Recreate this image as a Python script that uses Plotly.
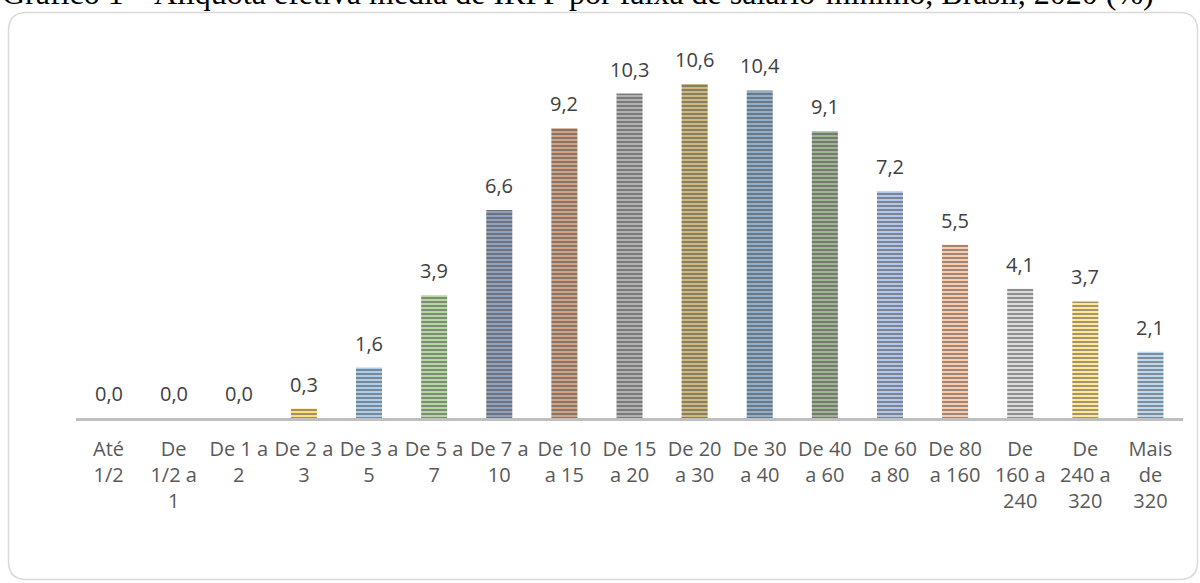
import plotly.graph_objects as go

categories = ["Até<br>1/2", "De<br>1/2 a<br>1", "De 1 a<br>2", "De 2 a<br>3", "De 3 a<br>5",
              "De 5 a<br>7", "De 7 a<br>10", "De 10<br>a 15", "De 15<br>a 20", "De 20<br>a 30",
              "De 30<br>a 40", "De 40<br>a 60", "De 60<br>a 80", "De 80<br>a 160",
              "De<br>160 a<br>240", "De<br>240 a<br>320", "Mais<br>de<br>320"]
values = [0.0, 0.0, 0.0, 0.3, 1.6, 3.9, 6.6, 9.2, 10.3, 10.6, 10.4, 9.1, 7.2, 5.5, 4.1, 3.7, 2.1]
colors = ["#4472C4", "#ED7D31", "#A5A5A5", "#FFC000", "#5B9BD5", "#70AD47", "#264478", "#9E480E",
          "#636363", "#997300", "#255E91", "#43682B", "#698ED0", "#F1975A", "#B7B7B7", "#FFCD33",
          "#7CAFDD"]
title_text = "Gráfico 1 – Alíquota efetiva média de IRPF por faixa de salário-mínimo, Brasil, 2020 (%)"

W, H = 1200, 583


def tint(hexcol, f):
    h = hexcol.lstrip("#")
    r, g, b = int(h[0:2], 16), int(h[2:4], 16), int(h[4:6], 16)
    r = int(r + (255 - r) * f)
    g = int(g + (255 - g) * f)
    b = int(b + (255 - b) * f)
    return f"#{r:02x}{g:02x}{b:02x}"


light = [tint(c, 0.5) for c in colors]

fig = go.Figure()
fig.add_trace(go.Bar(
    x=list(range(len(categories))),
    y=values,
    width=0.4,
    marker=dict(
        color=light,
        line=dict(width=0),
        pattern=dict(shape="-", fgcolor=colors, size=4, solidity=0.5, fillmode="overlay"),
    ),
    hoverinfo="skip",
))

for i, v in enumerate(values):
    fig.add_annotation(
        x=i, y=v, xref="x", yref="y",
        text=f"{v:.1f}".replace(".", ","),
        showarrow=False, yanchor="bottom", yshift=9,
        font=dict(family="Open Sans", size=20, color="#404040"),
    )

# Title (cropped at top of the image, as in the source)
fig.add_annotation(
    x=0.0, y=(H - 13) / H, xref="paper", yref="paper",
    text=title_text, showarrow=False, xanchor="left", yanchor="bottom",
    font=dict(family="Liberation Serif", size=32, color="#000000"),
)

# Rounded chart border
x0, x1, y0, y1, r = 8.5, 1197.5, 12.5, 579.5, 18


def px(x):
    return x / W


def py(y):
    return (H - y) / H


path = (f"M {px(x0 + r)},{py(y0)} L {px(x1 - r)},{py(y0)} "
        f"Q {px(x1)},{py(y0)} {px(x1)},{py(y0 + r)} "
        f"L {px(x1)},{py(y1 - r)} Q {px(x1)},{py(y1)} {px(x1 - r)},{py(y1)} "
        f"L {px(x0 + r)},{py(y1)} Q {px(x0)},{py(y1)} {px(x0)},{py(y1 - r)} "
        f"L {px(x0)},{py(y0 + r)} Q {px(x0)},{py(y0)} {px(x0 + r)},{py(y0)} Z")
fig.add_shape(type="path", path=path, xref="paper", yref="paper",
              line=dict(color="#d9d9d9", width=1.5), layer="below")

fig.update_layout(
    width=W, height=H,
    margin=dict(l=0, r=0, t=0, b=0),
    paper_bgcolor="white", plot_bgcolor="white",
    showlegend=False,
    bargap=0.6,
    xaxis=dict(
        domain=[76 / W, 1183 / W],
        range=[-0.5, len(categories) - 0.5],
        tickmode="array", tickvals=list(range(len(categories))), ticktext=categories,
        showline=True, linecolor="#bfbfbf", linewidth=3,
        showgrid=False, zeroline=False, ticks="",
        tickfont=dict(family="Open Sans", size=20, color="#595959"),
        ticklabelstandoff=11,
    ),
    yaxis=dict(
        domain=[(H - 418) / H, (H - 40) / H],
        range=[0, 12], visible=False, showgrid=False, zeroline=False,
    ),
)

fig.write_html("out.html")
